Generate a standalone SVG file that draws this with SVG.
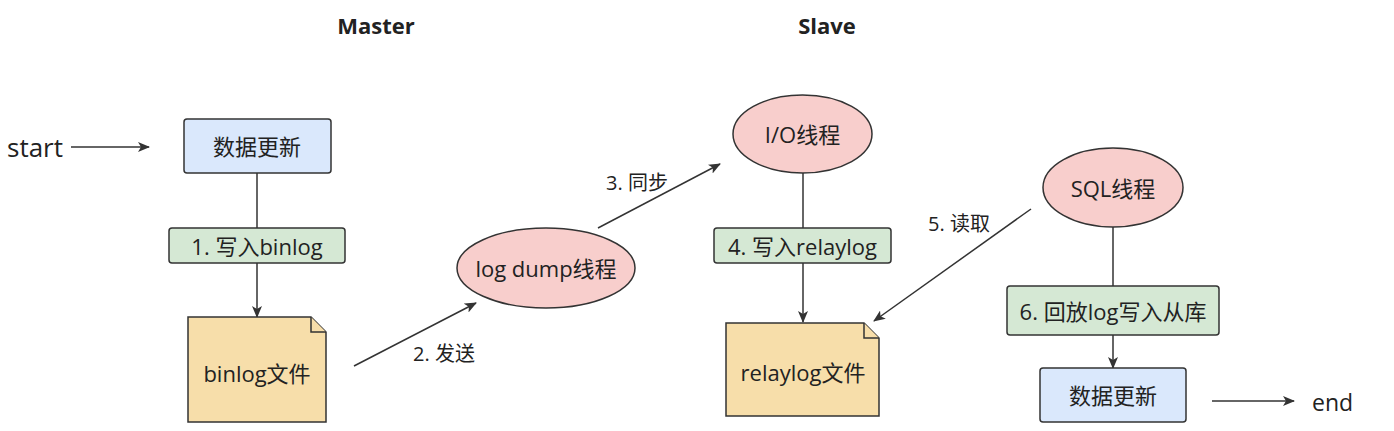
<svg xmlns="http://www.w3.org/2000/svg" width="1394" height="431" viewBox="0 0 1394 431">
<style>
text{font-family:"Open Sans","Noto Sans CJK SC",sans-serif;fill:#222;}
.t{font-size:22px;text-anchor:middle;dominant-baseline:central;}
.el{font-size:20px;text-anchor:middle;dominant-baseline:central;}
.title{font-size:22px;font-weight:bold;text-anchor:middle;}
.blue{fill:#dae8fc;stroke:#333;stroke-width:1.5;}
.green{fill:#d5e8d4;stroke:#333;stroke-width:1.5;}
.pink{fill:#f8cecc;stroke:#333;stroke-width:1.5;}
.file{fill:#f7deaa;stroke:#333;stroke-width:1.5;stroke-linejoin:miter;}
.fold{fill:#f7deaa;stroke:#333;stroke-width:1.5;}
.edge{stroke:#333;stroke-width:1.5;fill:none;}
.arr{marker-end:url(#arrow);}
</style>
<defs>
<marker id="arrow" viewBox="0 0 12 10" refX="11" refY="5" markerWidth="12" markerHeight="10" markerUnits="userSpaceOnUse" orient="auto">
<path d="M0,0 L12,5 L0,10 L3,5 z" fill="#333"/>
</marker>
</defs>
<rect width="1394" height="431" fill="#ffffff"/>
<text class="title" x="376" y="34">Master</text>
<text class="title" x="827" y="34">Slave</text>
<g id="connectors">
<line class="edge arr" x1="71" y1="147" x2="149" y2="147"/>
<line class="edge" x1="257" y1="173" x2="257" y2="228"/>
<line class="edge arr" x1="257" y1="263" x2="257" y2="317"/>
<line class="edge arr" x1="354" y1="366" x2="476" y2="303"/>
<line class="edge arr" x1="598" y1="228" x2="720" y2="164"/>
<line class="edge" x1="803" y1="173" x2="803" y2="228"/>
<line class="edge arr" x1="803" y1="263" x2="803" y2="322"/>
<line class="edge arr" x1="1031" y1="209" x2="874" y2="321"/>
<line class="edge" x1="1113" y1="227" x2="1113" y2="286"/>
<line class="edge arr" x1="1113" y1="335" x2="1113" y2="368"/>
<line class="edge arr" x1="1212" y1="401" x2="1294" y2="401"/>
<text class="el" x="444" y="353">2. 发送</text>
<text class="el" x="637" y="182">3. 同步</text>
<text class="el" x="959" y="223">5. 读取</text>
</g>
<g id="start"><text x="7" y="157" style="font-size:26px">start</text></g>
<g id="update1">
<rect class="blue" x="184" y="119" width="147" height="54" rx="3"/>
<text class="t" x="257" y="146">数据更新</text>
</g>
<g id="write-binlog">
<rect class="green" x="169" y="228" width="176" height="35" rx="3"/>
<text class="t" x="257" y="245.5">1. 写入binlog</text>
</g>
<g id="binlog-file">
<path class="file" d="M188,317 H311 L326,332 V422 H188 Z"/>
<path class="fold" d="M311,317 V332 H326"/>
<text class="t" x="257" y="373">binlog文件</text>
</g>
<g id="log-dump">
<ellipse class="pink" cx="546" cy="268" rx="89" ry="40"/>
<text class="t" x="546" y="268">log dump线程</text>
</g>
<g id="io-thread">
<ellipse class="pink" cx="802.5" cy="134" rx="69.5" ry="39"/>
<text class="t" x="802.5" y="134">I/O线程</text>
</g>
<g id="write-relaylog">
<rect class="green" x="714" y="228" width="177" height="35" rx="3"/>
<text class="t" x="802.5" y="245.5">4. 写入relaylog</text>
</g>
<g id="relaylog-file">
<path class="file" d="M726,323 H864 L879,338 V416 H726 Z"/>
<path class="fold" d="M864,323 V338 H879"/>
<text class="t" x="803" y="372">relaylog文件</text>
</g>
<g id="sql-thread">
<ellipse class="pink" cx="1113" cy="187.5" rx="70" ry="39.5"/>
<text class="t" x="1113" y="187.5">SQL线程</text>
</g>
<g id="replay">
<rect class="green" x="1007" y="286" width="212" height="49" rx="3"/>
<text class="t" x="1113" y="310.5">6. 回放log写入从库</text>
</g>
<g id="update2">
<rect class="blue" x="1040" y="368" width="146" height="54" rx="3"/>
<text class="t" x="1113" y="395">数据更新</text>
</g>
<g id="end"><text x="1312" y="411" style="font-size:23px">end</text></g>
</svg>
